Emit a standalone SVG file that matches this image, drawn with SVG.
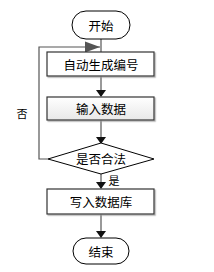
<svg xmlns="http://www.w3.org/2000/svg" width="214" height="272" viewBox="0 0 214 272">
<style>
text{font-family:"Noto Sans CJK SC","Liberation Sans",sans-serif;font-size:12.5px;fill:#000;text-anchor:middle;dominant-baseline:central}
.lbl{font-size:11px}
.box{fill:#fff;stroke:#333;stroke-width:1.2}
.term{fill:#fff;stroke:#000;stroke-width:1}
.c{fill:none;stroke:#555;stroke-width:1.2}
</style>
<defs>
<marker id="ah" markerWidth="7" markerHeight="10" refX="6" refY="5" orient="auto" markerUnits="userSpaceOnUse"><path d="M0,0 L7,5 L0,10 Z" fill="#111"/></marker>
<marker id="ah2" markerWidth="16" markerHeight="12" refX="15" refY="6" orient="auto" markerUnits="userSpaceOnUse"><path d="M0,0.5 L15,6 L0,11.5 Z" fill="#555"/></marker>
<linearGradient id="g" x1="0" y1="0" x2="0" y2="1"><stop offset="0" stop-color="#fff"/><stop offset="1" stop-color="#e8e8e8"/></linearGradient>
<filter id="sh" x="-5%" y="-5%" width="115%" height="130%"><feDropShadow dx="1.2" dy="1.2" stdDeviation="0.4" flood-color="#999" flood-opacity="0.8"/></filter>
</defs>
<g id="connectors">
<path class="c" d="M101,39 V52"/>
<path class="c" d="M48,159 H39 V47 H100" marker-end="url(#ah2)"/>
<path class="c" d="M101,76 V96" marker-end="url(#ah)"/>
<path class="c" d="M101,120 V143" marker-end="url(#ah)"/>
<path class="c" d="M101,174 V188" marker-end="url(#ah)"/>
<path class="c" d="M101,214 V237" marker-end="url(#ah)"/>
<text class="lbl" x="22" y="113">否</text>
<text class="lbl" x="114" y="180">是</text>
</g>
<g id="start"><rect class="term" x="72" y="11" width="58" height="28" rx="14"/><text x="101" y="25">开始</text></g>
<g id="gen"><rect class="box" x="47" y="52" width="107" height="24" filter="url(#sh)"/><text x="101" y="64">自动生成编号</text></g>
<g id="input"><rect class="box" x="47" y="97" width="107" height="23" style="fill:url(#g)" filter="url(#sh)"/><text x="101" y="108.5">输入数据</text></g>
<g id="check"><polygon points="48,159 101,143 154,159 101,174" fill="#fff" stroke="#000" stroke-width="1"/><text x="101" y="158.5">是否合法</text></g>
<g id="write"><rect class="box" x="47" y="189" width="107" height="25" filter="url(#sh)"/><text x="101" y="201.5">写入数据库</text></g>
<g id="end"><rect class="term" x="73" y="238" width="56" height="26" rx="13"/><text x="101" y="251">结束</text></g>
</svg>
